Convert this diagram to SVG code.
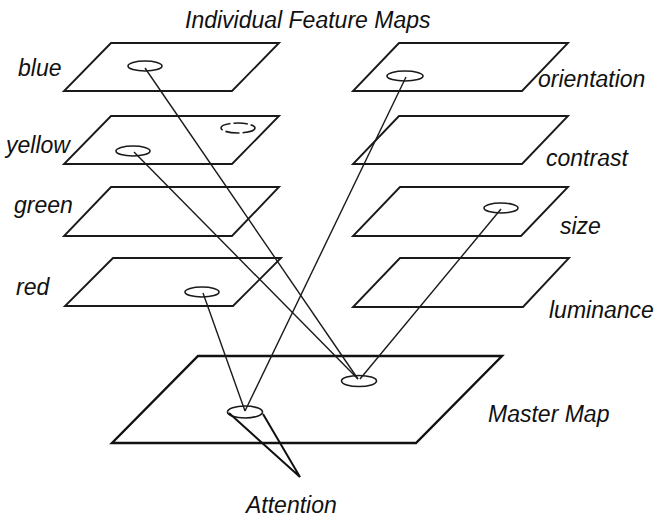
<svg xmlns="http://www.w3.org/2000/svg" width="658" height="518" viewBox="0 0 658 518">
<style>
text{font-family:"Liberation Sans",Arial,sans-serif;font-style:italic;font-size:23px;fill:#111}
.plane{fill:none;stroke:#1a1a1a;stroke-width:1.9;stroke-linejoin:miter}
.master{fill:none;stroke:#111;stroke-width:2.4}
.spot{fill:none;stroke:#1a1a1a;stroke-width:1.6}
.conn line{stroke:#1a1a1a;stroke-width:1.4}
.cone{fill:none;stroke:#111;stroke-width:2}
</style>
<rect width="658" height="518" fill="#fff"/>
<text x="185" y="28">Individual Feature Maps</text>
<g id="blue"><polygon class="plane" points="111,43 279,43 232,91 64,91"/><ellipse class="spot" cx="145" cy="66" rx="17" ry="5"/><text x="18" y="76">blue</text></g>
<g id="yellow"><polygon class="plane" points="111,116 279,116 232,164 64,164"/><ellipse class="spot" cx="133" cy="151" rx="17" ry="5"/><ellipse class="spot" cx="238" cy="128" rx="17" ry="5" stroke-dasharray="14,3"/><text x="6" y="153">yellow</text></g>
<g id="green"><polygon class="plane" points="111,187 279,187 232,236 64,236"/><text x="14" y="213">green</text></g>
<g id="red"><polygon class="plane" points="113,258 281,258 233,306 65,306"/><ellipse class="spot" cx="202" cy="292" rx="17" ry="5"/><text x="16" y="295">red</text></g>
<g id="orientation"><polygon class="plane" points="399,43 568,43 522,91 353,91"/><ellipse class="spot" cx="405" cy="76" rx="18" ry="5"/><text x="538" y="87">orientation</text></g>
<g id="contrast"><polygon class="plane" points="399,116 568,116 522,164 353,164"/><text x="546" y="166">contrast</text></g>
<g id="size"><polygon class="plane" points="400,187 568,187 521,236 353,236"/><ellipse class="spot" cx="501" cy="208" rx="17" ry="5"/><text x="560" y="234">size</text></g>
<g id="luminance"><polygon class="plane" points="400,258 569,258 523,307 353,307"/><text x="549" y="318">luminance</text></g>
<g id="master"><polygon class="master" points="198,356 502,356 416,443 112,443"/><ellipse class="spot" cx="359" cy="381" rx="17.5" ry="5.5" stroke-width="2"/><ellipse class="spot" cx="245" cy="412" rx="17.5" ry="6" stroke-width="2"/><text x="488" y="422">Master Map</text></g>
<g id="attention"><polyline class="cone" points="229,413 300,477 263,414"/><text x="246" y="513">Attention</text></g>
<g class="conn">
<line x1="145" y1="68" x2="358" y2="379"/>
<line x1="134" y1="152" x2="358" y2="379"/>
<line x1="501" y1="209" x2="360" y2="379"/>
<line x1="406" y1="77" x2="245" y2="411"/>
<line x1="203" y1="293" x2="245" y2="411"/>
</g>
</svg>
